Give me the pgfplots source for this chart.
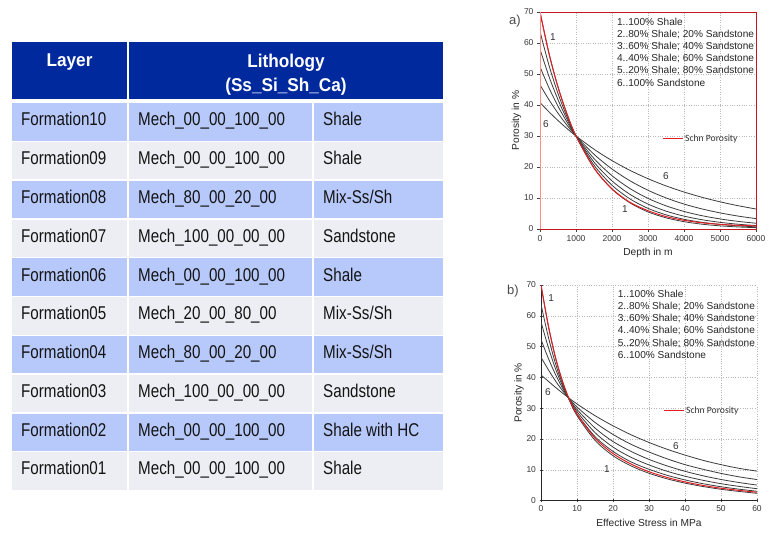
\documentclass[border=0pt]{standalone}
\usepackage{fontspec}
\setmainfont{Liberation Sans}
\newfontfamily\narrowfont[FakeStretch=0.82]{Liberation Sans}
\newfontfamily\headfont[FakeStretch=0.93]{Liberation Sans}
\newfontfamily\carlito{Carlito}
\usepackage{pgfplots}
\pgfplotsset{compat=1.18}
\usepackage{pgfplotstable}
\definecolor{hdrblue}{RGB}{0,41,158}
\definecolor{rowblue}{RGB}{183,200,250}
\definecolor{rowgray}{RGB}{237,238,243}
\definecolor{curve}{RGB}{60,60,60}
\definecolor{schn}{RGB}{225,30,35}
\definecolor{ticktext}{RGB}{55,55,55}
\definecolor{bodytext}{RGB}{20,20,20}

% Porosity vs depth (a)
\pgfplotstableread{
z     c1    c2    c3    c4    c5    c6    red
0     70    63.7  58    52.3  46.5  40.8  70
250   56.6  52.77 49.19 45.52 41.67 37.78 56.6
500   45.8  43.71 41.71 39.61 37.35 34.99 45.8
750   37.1  36.21 35.38 34.47 33.47 32.40 37.1
1000  30    30    30    30    30    30    30
1500  19.64 20.59 21.58 22.72 24.10 25.73 19.7
2000  12.86 14.13 15.52 17.21 19.35 22.06 12.95
2500  8.42  9.70  11.16 13.03 15.55 18.91 8.6
3000  5.51  6.65  8.03  9.87  12.49 16.22 5.9
3500  3.61  4.57  5.77  7.48  10.03 13.91 4.0
4000  2.36  3.13  4.15  5.66  8.05  11.93 2.8
4500  1.55  2.15  2.99  4.29  6.47  10.23 2.0
5000  1.01  1.48  2.15  3.25  5.20  8.77  1.5
5500  0.66  1.01  1.54  2.46  4.17  7.52  1.2
6000  0.43  0.70  1.11  1.86  3.35  6.45  1.0
}\tabA

% Porosity vs effective stress (b)
\pgfplotstableread{
s   c1    c2    c3    c4    c5    c6    red
0   70    63.7  58.0  52.3  46.5  40.8  70
2   57    53.3  49.9  46.3  42.6  38.8  57
4   46.5  44.6  42.9  41.0  38.9  36.8  46.6
6   38.5  37.8  37.2  36.5  35.7  34.9  38.7
8   32.3  32.4  32.6  32.7  32.9  33.1  32.5
10  27.6  28.2  28.9  29.6  30.4  31.4  28.1
15  19.6  20.8  22.1  23.6  25.4  27.6  20.3
20  14.6  16.0  17.4  19.2  21.5  24.3  15.3
25  11.3  12.6  14.1  16.0  18.3  21.4  11.9
30  8.9   10.2  11.6  13.4  15.8  18.9  9.4
35  7.1   8.25  9.56  11.3  13.6  16.7  7.55
40  5.7   6.74  7.94  9.54  11.7  14.8  6.1
45  4.6   5.52  6.62  8.09  10.2  13.1  4.95
50  3.7   4.53  5.52  6.89  8.86  11.7  4.05
55  3.0   3.74  4.64  5.90  7.75  10.5  3.35
60  2.4   3.06  3.89  5.07  6.86  9.6   2.75
}\tabB

\pgfplotsset{
  porostyle/.style={
    scale only axis,
    ymin=0, ymax=70, ytick={0,10,...,70},
    /pgf/number format/assume math mode=true,
    /pgf/number format/1000 sep={},
    scaled x ticks=false,
    tick label style={font=\fontsize{8.5}{10}\selectfont, text=ticktext},
    label style={font=\fontsize{10.2}{12}\selectfont, text=black!85},
    ylabel={Porosity in \%},
    ylabel shift=-4pt,
    grid=major, grid style={dotted, gray!55, line width=0.6pt},
    tick align=outside, major tick length=3pt,
    tick style={gray!50!black, line width=0.5pt},
    legend style={draw=none, fill=none, anchor=west,
      font=\carlito\fontsize{9.6}{11}\selectfont, inner sep=0pt, text=black!80},
    legend image code/.code={\draw[##1] (0pt,0pt) -- (20pt,0pt);},
  },
  blk/.style={curve, line width=0.8pt, smooth, forget plot},
  rd/.style={schn, line width=1pt, smooth},
}

\newcommand{\keytext}{1..100\% Shale\\2..80\% Shale; 20\% Sandstone\\3..60\% Shale; 40\% Sandstone\\4..40\% Shale; 60\% Sandstone\\5..20\% Shale; 80\% Sandstone\\6..100\% Sandstone}

\begin{document}
\begin{tikzpicture}[x=1pt,y=1pt]
\fill[white] (0,0) rectangle (779,535);

% ---------- table ----------
\fill[hdrblue] (12,493.3) rectangle (127,435.7);
\fill[hdrblue] (129,493.3) rectangle (443,435.7);
\node[anchor=base, inner sep=0pt, text=white, font=\headfont\bfseries\fontsize{18.5}{21}\selectfont] at (69.5,468.4) {Layer};
\node[anchor=base, inner sep=0pt, text=white, font=\headfont\bfseries\fontsize{18.5}{21}\selectfont] at (286,467.3) {Lithology};
\node[anchor=base, inner sep=0pt, text=white, font=\headfont\bfseries\fontsize{18.5}{21}\selectfont] at (286,443.3) {(Ss\_Si\_Sh\_Ca)};

\foreach \i/\col/\a/\b/\c in {
  0/rowblue/Formation10/{Mech\_00\_00\_100\_00}/Shale,
  1/rowgray/Formation09/{Mech\_00\_00\_100\_00}/Shale,
  2/rowblue/Formation08/{Mech\_80\_00\_20\_00}/{Mix-Ss/Sh},
  3/rowgray/Formation07/{Mech\_100\_00\_00\_00}/Sandstone,
  4/rowblue/Formation06/{Mech\_00\_00\_100\_00}/Shale,
  5/rowgray/Formation05/{Mech\_20\_00\_80\_00}/{Mix-Ss/Sh},
  6/rowblue/Formation04/{Mech\_80\_00\_20\_00}/{Mix-Ss/Sh},
  7/rowgray/Formation03/{Mech\_100\_00\_00\_00}/Sandstone,
  8/rowblue/Formation02/{Mech\_00\_00\_100\_00}/{Shale with HC},
  9/rowgray/Formation01/{Mech\_00\_00\_100\_00}/Shale}{
  \pgfmathsetmacro\yt{535-103.3-38.78*\i}
  \pgfmathsetmacro\yb{\yt-37.4}
  \pgfmathsetmacro\ybase{\yt-22.6}
  \fill[\col] (12,\yt) rectangle (127,\yb);
  \fill[\col] (129,\yt) rectangle (312,\yb);
  \fill[\col] (314,\yt) rectangle (443,\yb);
  \node[anchor=base west, inner sep=0pt, text=bodytext, font=\narrowfont\fontsize{18.5}{21}\selectfont] at (21,\ybase) {\a};
  \node[anchor=base west, inner sep=0pt, text=bodytext, font=\narrowfont\fontsize{18.5}{21}\selectfont] at (138,\ybase) {\b};
  \node[anchor=base west, inner sep=0pt, text=bodytext, font=\narrowfont\fontsize{18.5}{21}\selectfont] at (323,\ybase) {\c};
}

% ---------- plot a ----------
\begin{axis}[porostyle,
  at={(540pt,306pt)}, anchor=south west, width=216pt, height=217pt,
  xmin=0, xmax=6000, xtick={0,1000,2000,3000,4000,5000,6000},
  xtick pos=left, ytick pos=left,
  xlabel={Depth in m},
  axis line style={schn!85!black, line width=0.9pt},
  legend style={at={(0.565,0.415)}},
]
\addplot[blk] table[x=z,y=c1]{\tabA};
\addplot[blk] table[x=z,y=c2]{\tabA};
\addplot[blk] table[x=z,y=c3]{\tabA};
\addplot[blk] table[x=z,y=c4]{\tabA};
\addplot[blk] table[x=z,y=c5]{\tabA};
\addplot[blk] table[x=z,y=c6]{\tabA};
\addplot[rd] table[x=z,y=red]{\tabA};
\addlegendentry{Schn Porosity}
\draw[red!45, line width=1.5pt] (rel axis cs:0,0) -- (rel axis cs:0,1);
\node[anchor=north west, align=left, inner sep=0pt, text=black!85,
  font=\fontsize{10.1}{12.2}\selectfont] at (rel axis cs:0.356,0.974) {\keytext};
\node[text=black!80, font=\fontsize{10}{12}\selectfont] at (axis cs:361,61.9) {1};
\node[text=black!80, font=\fontsize{10}{12}\selectfont] at (axis cs:167,33.9) {6};
\node[text=black!80, font=\fontsize{10}{12}\selectfont] at (axis cs:3500,17.1) {6};
\node[text=black!80, font=\fontsize{10}{12}\selectfont] at (axis cs:2361,6.45) {1};
\end{axis}

% ---------- plot b ----------
\begin{axis}[porostyle,
  at={(541pt,34.3pt)}, anchor=south west, width=216pt, height=215.7pt,
  xmin=0, xmax=60, xtick={0,10,...,60},
  axis lines=left,
  axis line style={-, gray!30!black, line width=0.8pt},
  xlabel={Effective Stress in MPa},
  legend style={at={(0.565,0.417)}},
]
\addplot[blk] table[x=s,y=c1]{\tabB};
\addplot[blk] table[x=s,y=c2]{\tabB};
\addplot[blk] table[x=s,y=c3]{\tabB};
\addplot[blk] table[x=s,y=c4]{\tabB};
\addplot[blk] table[x=s,y=c5]{\tabB};
\addplot[blk] table[x=s,y=c6]{\tabB};
\addplot[rd] table[x=s,y=red]{\tabB};
\addlegendentry{Schn Porosity}
\node[anchor=north west, align=left, inner sep=0pt, text=black!85,
  font=\fontsize{10.1}{12.2}\selectfont] at (rel axis cs:0.355,0.978) {\keytext};
\node[text=black!80, font=\fontsize{10}{12}\selectfont] at (axis cs:2.8,65.7) {1};
\node[text=black!80, font=\fontsize{10}{12}\selectfont] at (axis cs:1.9,35.2) {6};
\node[text=black!80, font=\fontsize{10}{12}\selectfont] at (axis cs:37.5,17.8) {6};
\node[text=black!80, font=\fontsize{10}{12}\selectfont] at (axis cs:18.3,10.3) {1};
\end{axis}

% panel letters
\node[text=black!70, font=\fontsize{13}{15}\selectfont] at (515,514) {a)};
\node[text=black!70, font=\fontsize{13}{15}\selectfont] at (513,244) {b)};

\pgfresetboundingbox
\useasboundingbox (0,0) rectangle (779,535);
\end{tikzpicture}
\end{document}
